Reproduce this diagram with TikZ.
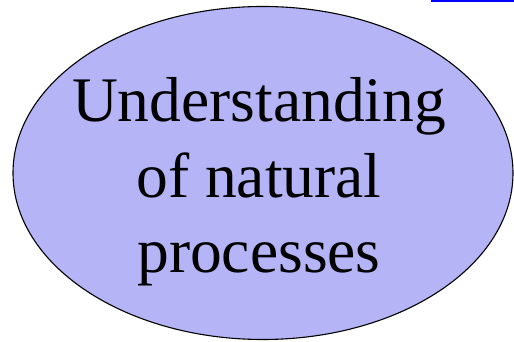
\documentclass[tikz,border=0pt]{standalone}
\usepackage{fontspec}
\setmainfont{Liberation Serif}
\usetikzlibrary{shapes.geometric}
\definecolor{ellfill}{RGB}{180,180,246}
\definecolor{linkblue}{RGB}{0,0,255}
\begin{document}
\begin{tikzpicture}[x=1pt,y=1pt,
  bubble/.style={ellipse,draw=black,line width=1.1pt,fill=ellfill,inner sep=0pt,minimum width=500pt,minimum height=333pt},
  bigtext/.style={align=center,inner sep=0pt,font=\fontsize{63.5}{75.5}\selectfont}]
\useasboundingbox (0,0) rectangle (514,342);
\fill[white] (0,0) rectangle (514,342);
\node[bubble] (ell) at (263,169) {};
\node[bigtext,anchor=base] (txt) at (259,69) {Understanding\\of natural\\processes};
\fill[linkblue] (431,340) rectangle (514,342);
\end{tikzpicture}
\end{document}
